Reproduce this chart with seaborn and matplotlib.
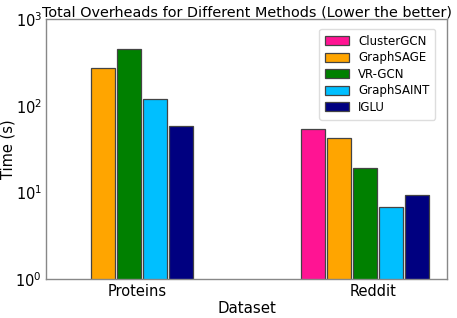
import matplotlib
matplotlib.use("Agg")
import matplotlib.pyplot as plt
import numpy as np
import pandas as pd
import seaborn as sns

# Data
datasets = ["Proteins", "Reddit"]
methods = ["ClusterGCN", "GraphSAGE", "VR-GCN", "GraphSAINT", "IGLU"]
proteins_times = [np.nan, 273, 456, 121, 58.5]
reddit_times = [54, 41.8, 19.2, 6.7, 9.2]
colors = ["#FF1493", "#FFA500", "#008000", "#00BFFF", "#000080"]

df = pd.DataFrame({
    "Dataset": np.repeat(datasets, len(methods)),
    "Method": methods * len(datasets),
    "Time": proteins_times + reddit_times,
})

sns.set_style("white", {"text.color": "black", "axes.labelcolor": "black",
                        "xtick.color": "black", "ytick.color": "black"})
plt.rcParams["font.family"] = ["DejaVu Sans"]

fig = plt.figure(figsize=(4.57, 3.18), dpi=100)
ax = fig.add_axes([0.101, 0.123, 0.878, 0.817])

sns.barplot(data=df, x="Dataset", y="Time", hue="Method", hue_order=methods,
            palette=colors, saturation=1, width=0.55, gap=0.08,
            edgecolor="#444444", linewidth=0.9, ax=ax)
ax.set_yscale("log")

ax.set_ylim(1, 1000)
ax.set_xlim(-0.35, 1.35)
ax.set_xticks([0.034, 1.034])
ax.set_xticklabels(datasets, fontsize=10.5)
ax.tick_params(axis="x", length=0, pad=4)
ax.tick_params(axis="y", which="major", length=0, labelsize=10.5, pad=3)
ax.tick_params(axis="y", which="minor", direction="in", length=2, color="#999999")
ax.set_xlabel("Dataset", fontsize=10.8, labelpad=1)
ax.set_ylabel("Time (s)", fontsize=10.5, labelpad=0)
ax.set_title("Total Overheads for Different Methods (Lower the better)",
             fontsize=10.4, pad=2)
for s in ax.spines.values():
    s.set_color("#888888")
    s.set_linewidth(1)

ax.legend(loc="upper right", fontsize=8.5, frameon=True, framealpha=1,
          edgecolor="#dddddd", handlelength=2.0, handleheight=0.8,
          labelspacing=0.3, borderpad=0.5, bbox_to_anchor=(0.985, 0.985))

fig.savefig("out.png", dpi=100)
